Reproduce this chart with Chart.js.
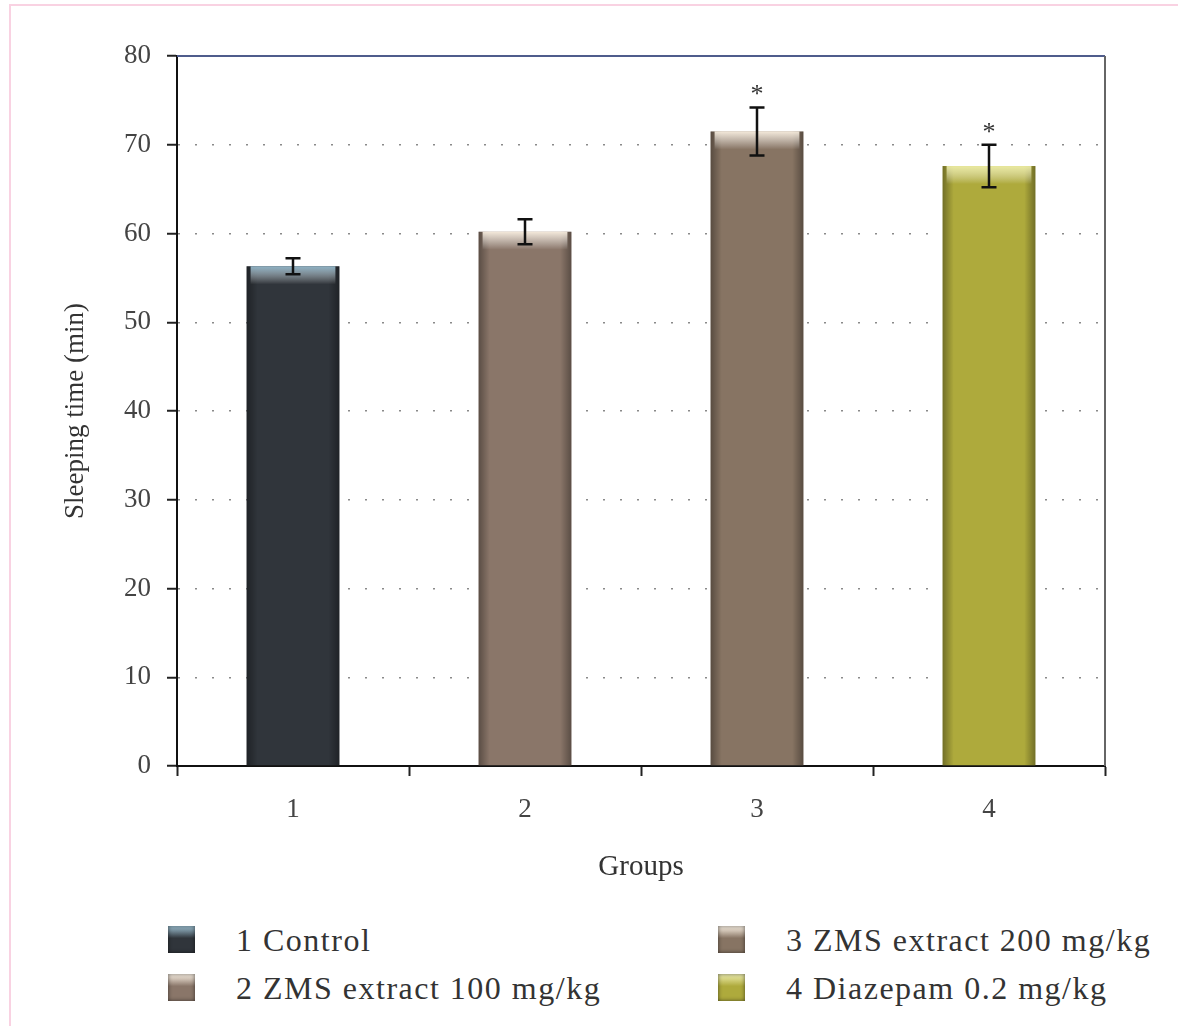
<!DOCTYPE html>
<html>
<head>
<meta charset="utf-8">
<script src="https://cdn.jsdelivr.net/npm/chart.js@4/dist/chart.umd.min.js"></script>
<style>
  body { margin: 0; background: #fff; }
  #frame { position: absolute; left: 9px; top: 4px; width: 1300px; height: 1100px;
           border-top: 2px solid #f9d2e2; border-left: 2px solid #f9d2e2; }
  #wrap { position: absolute; left: 0; top: 0; width: 1178px; height: 900px; }
  #legend { position: absolute; left: 0; top: 0; font-family: "Liberation Serif", serif;
            font-size: 32px; letter-spacing: 1.5px; color: #333; }
  .item { position: absolute; white-space: nowrap; line-height: 30px; }
  .box { position: absolute; width: 27px; height: 27px; top: 1px; }
</style>
</head>
<body>
<div id="frame"></div>
<div id="wrap"><canvas id="barChart" width="1178" height="900"></canvas></div>
<div id="legend"></div>
<script>
// Data
const groups = ["1", "2", "3", "4"];
const legendNames = ["1 Control", "2 ZMS extract 100 mg/kg", "3 ZMS extract 200 mg/kg", "4 Diazepam 0.2 mg/kg"];
const sleepingTime = [56.3, 60.2, 71.5, 67.6];
const errors = [0.9, 1.4, 2.7, 2.4];
const marks = ["", "", "*", "*"];
const yTicks = [0, 10, 20, 30, 40, 50, 60, 70, 80];

// bar look
const barColors = ["#30353b", "#8a7669", "#877463", "#aeaa3c"];
const topColors = ["rgba(150,190,210,0.9)", "rgba(255,245,230,0.9)", "rgba(255,245,230,0.9)", "rgba(240,240,170,0.9)"];

const serif = "'Liberation Serif', serif";

// shading, error bars, asterisks and the frame lines
const extras = {
  id: "extras",
  afterDatasetsDraw(chart) {
    const { ctx, chartArea } = chart;
    const y = chart.scales.y;
    const meta = chart.getDatasetMeta(0);
    meta.data.forEach((bar, i) => {
      const left = bar.x - bar.width / 2;
      const h = bar.base - bar.y;
      ctx.save();
      let g = ctx.createLinearGradient(left, 0, left + bar.width, 0);
      g.addColorStop(0, "rgba(0,0,0,0.35)");
      g.addColorStop(0.12, "rgba(0,0,0,0)");
      g.addColorStop(0.88, "rgba(0,0,0,0)");
      g.addColorStop(1, "rgba(0,0,0,0.35)");
      ctx.fillStyle = g;
      ctx.fillRect(left, bar.y, bar.width, h);
      g = ctx.createLinearGradient(0, bar.y, 0, bar.y + 18);
      g.addColorStop(0, topColors[i]);
      g.addColorStop(1, "rgba(255,255,255,0)");
      ctx.fillStyle = g;
      ctx.fillRect(left + 4, bar.y, bar.width - 8, 18);
      ctx.restore();
    });
    // error bars
    ctx.save();
    ctx.strokeStyle = "#111";
    ctx.lineWidth = 2.5;
    meta.data.forEach((bar, i) => {
      const hi = y.getPixelForValue(sleepingTime[i] + errors[i]);
      const lo = y.getPixelForValue(sleepingTime[i] - errors[i]);
      ctx.beginPath();
      ctx.moveTo(bar.x, hi); ctx.lineTo(bar.x, lo);
      ctx.moveTo(bar.x - 7.5, hi); ctx.lineTo(bar.x + 7.5, hi);
      ctx.moveTo(bar.x - 7.5, lo); ctx.lineTo(bar.x + 7.5, lo);
      ctx.stroke();
      if (marks[i]) {
        ctx.fillStyle = "#333";
        ctx.font = "26px " + serif;
        ctx.textAlign = "center";
        ctx.textBaseline = "middle";
        ctx.fillText(marks[i], bar.x, hi - 12);
      }
    });
    // top line and right border
    ctx.beginPath();
    ctx.strokeStyle = "#4f5c8c";
    ctx.lineWidth = 2;
    ctx.moveTo(chartArea.left, chartArea.top); ctx.lineTo(chartArea.right, chartArea.top);
    ctx.stroke();
    ctx.beginPath();
    ctx.strokeStyle = "#666";
    ctx.moveTo(chartArea.right, chartArea.top); ctx.lineTo(chartArea.right, chartArea.bottom);
    ctx.stroke();
    ctx.restore();
  }
};

const config = {
  type: "bar",
  data: {
    labels: groups,
    datasets: [{
      label: "Sleeping time",
      data: sleepingTime,
      backgroundColor: barColors,
      barPercentage: 0.8,
      categoryPercentage: 0.5
    }]
  },
  options: {
    responsive: false,
    animation: false,
    layout: { padding: { left: 40, top: 56, right: 73, bottom: 0 } },
    plugins: { legend: { display: false }, tooltip: { enabled: false } },
    scales: {
      x: {
        afterFit: (s) => { s.height = 134; },
        grid: { offset: true, drawOnChartArea: false, tickLength: 10, tickColor: "#222", tickWidth: 2 },
        border: { color: "#111", width: 2 },
        ticks: { color: "#444", padding: 18, font: { family: serif, size: 27 } },
        title: { display: true, text: "Groups", color: "#333", padding: { top: 0, bottom: 15 },
                 font: { family: serif, size: 29 } }
      },
      y: {
        min: 0, max: 80,
        afterFit: (s) => { s.width = 137; },
        afterBuildTicks: (s) => { s.ticks = yTicks.map(v => ({ value: v })); },
        grid: {
          color: (c) => (c.tick && (c.tick.value === 0 || c.tick.value === 80)) ? "rgba(0,0,0,0)" : "#8a8a8a",
          lineWidth: 1.5,
          tickLength: 10, tickColor: "#222", tickWidth: 2, tickBorderDash: []
        },
        border: { color: "#111", width: 2, dash: [2, 15] },
        ticks: { color: "#444", padding: 16, font: { family: serif, size: 27 } },
        title: { display: true, text: "Sleeping time (min)", color: "#333", padding: { top: 20, bottom: 0 },
                 font: { family: serif, size: 27 } }
      }
    }
  },
  plugins: [extras]
};

const barChart = new Chart(document.querySelector("#barChart"), config);

// legend below the plot, two columns
const legendPos = [[168, 925], [168, 973], [718, 925], [718, 973]];
const legendEl = document.querySelector("#legend");
legendNames.forEach((name, i) => {
  const item = document.createElement("div");
  item.className = "item";
  item.style.left = legendPos[i][0] + "px";
  item.style.top = legendPos[i][1] + "px";
  item.innerHTML = '<span class="box"></span><span style="margin-left:68px">' + name + "</span>";
  const box = item.querySelector(".box");
  box.style.background = "linear-gradient(180deg, " + topColors[i] + " 0%, " + barColors[i] + " 45%, " + barColors[i] + " 100%)";
  box.style.boxShadow = "inset 0 0 4px rgba(0,0,0,0.6)";
  legendEl.appendChild(item);
});
</script>
</body>
</html>
